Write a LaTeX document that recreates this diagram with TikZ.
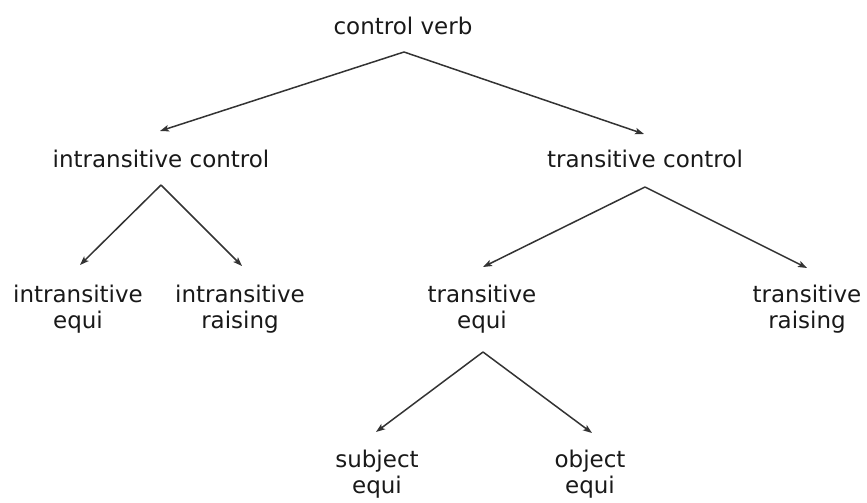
\documentclass[tikz,border=0pt]{standalone}
\usepackage{fontspec}
\setmainfont{DejaVu Sans}
\usetikzlibrary{arrows.meta}
\begin{document}
\begin{tikzpicture}[x=1pt,y=-1pt,
  lbl/.style={anchor=base, inner sep=0pt, align=center, font=\fontsize{23}{26}\selectfont, text=black!90},
  arr/.style={draw=black!80, line width=1.5pt, -{Stealth[length=9pt,width=6.5pt,inset=2pt]}}]
\useasboundingbox (0,0) rectangle (867,503);
\node[lbl] (cv) at (403,35) {control verb};
\node[lbl] (ic) at (161,167) {intransitive control};
\node[lbl] (tc) at (645,167) {transitive control};
\node[lbl] (ie) at (78,328) {intransitive\\equi};
\node[lbl] (ir) at (240,328) {intransitive\\raising};
\node[lbl] (te) at (482,328) {transitive\\equi};
\node[lbl] (tr) at (807,328) {transitive\\raising};
\node[lbl] (se) at (377,493) {subject\\equi};
\node[lbl] (oe) at (590,493) {object\\equi};
\draw[arr] ([shift={(1,17)}]cv.base) -- ([shift={(-1,-36)}]ic.base);
\draw[arr] ([shift={(1,17)}]cv.base) -- ([shift={(-1,-33)}]tc.base);
\draw[arr] ([shift={(0,18)}]ic.base) -- ([shift={(2,-63)}]ie.base);
\draw[arr] ([shift={(0,18)}]ic.base) -- ([shift={(2,-62)}]ir.base);
\draw[arr] ([shift={(0,20)}]tc.base) -- ([shift={(1,-61)}]te.base);
\draw[arr] ([shift={(0,20)}]tc.base) -- ([shift={(0,-60)}]tr.base);
\draw[arr] ([shift={(1,24)}]te.base) -- ([shift={(-1,-61)}]se.base);
\draw[arr] ([shift={(1,24)}]te.base) -- ([shift={(2,-60)}]oe.base);
\end{tikzpicture}
\end{document}
